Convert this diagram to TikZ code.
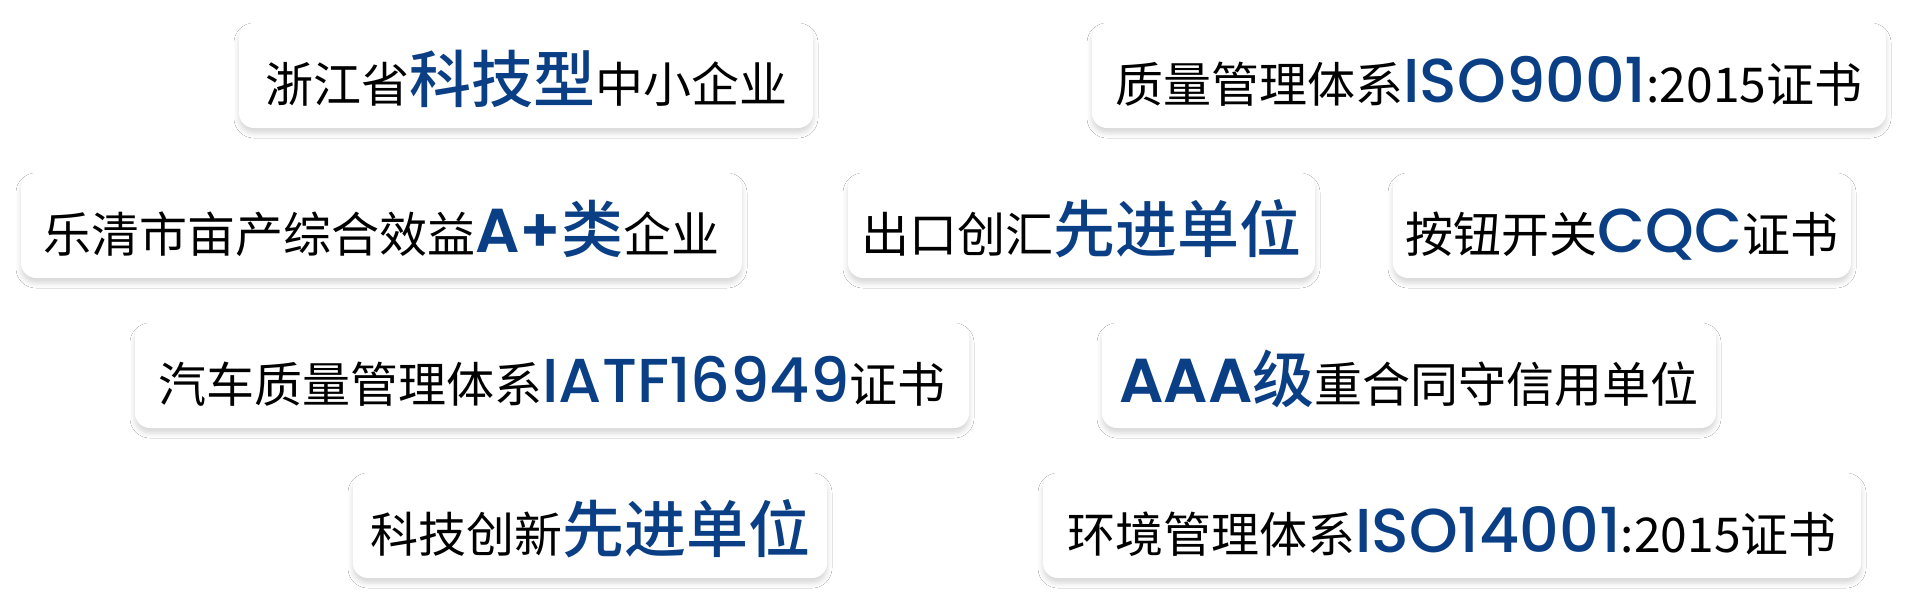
\documentclass[tikz,border=0pt]{standalone}
\usepackage{fontspec}
\setmainfont{Noto Sans CJK SC}
\newfontfamily\cjkm{Noto Sans CJK SC Medium}
\newfontfamily\pop{Poppins Medium}
\newfontfamily\pops{Poppins SemiBold}
\usetikzlibrary{shadows.blur}
\definecolor{hblue}{HTML}{0A3F85}
\newcommand\hb[1]{{\cjkm\fontsize{31}{31}\selectfont\color{hblue}#1}}
\newcommand\hl[1]{{\pop\fontsize{31}{31}\selectfont\color{hblue}#1}}
\newcommand\hlb[1]{{\pops\fontsize{31}{31}\selectfont\color{hblue}#1}}
\tikzset{
  card/.style={rounded corners=7.5pt, fill=white, inner sep=0pt,
    minimum height=52.5pt, text height=29.5pt, text depth=2.5pt,
    font=\fontsize{24}{24}\selectfont,
    blur shadow={shadow xshift=0pt, shadow yshift=-2.5pt, shadow blur radius=2.5pt, shadow opacity=16}}
}
\begin{document}
\begin{tikzpicture}[x=0.5pt,y=-0.5pt]
\useasboundingbox (0,0) rectangle (1920,600);
\fill[white] (0,0) rectangle (1920,600);
\node[card, minimum width=287pt] (n1) at (526,75.5) {浙江省\hb{科技型}中小企业};
\node[card, minimum width=397pt] (n2) at (1489,75.5) {质量管理体系\hl{ISO9001}:2015证书};
\node[card, minimum width=360.5pt] (n3) at (381.5,225.5) {乐清市亩产综合效益\hlb{A+}\hb{类}企业};
\node[card, minimum width=233.5pt] (n4) at (1081.5,225.5) {出口创汇\hb{先进单位}};
\node[card, minimum width=229pt] (n5) at (1622,225.5) {按钮开关\hl{CQC}证书};
\node[card, minimum width=417pt] (n6) at (552,375.5) {汽车质量管理体系\hl{IATF16949}证书};
\node[card, minimum width=307pt] (n7) at (1409,375.5) {\hlb{AAA}\hb{级}重合同守信用单位};
\node[card, minimum width=237pt] (n8) at (590,525.5) {科技创新\hb{先进单位}};
\node[card, minimum width=409pt] (n9) at (1452,525.5) {环境管理体系\hl{ISO14001}:2015证书};
\end{tikzpicture}
\end{document}
